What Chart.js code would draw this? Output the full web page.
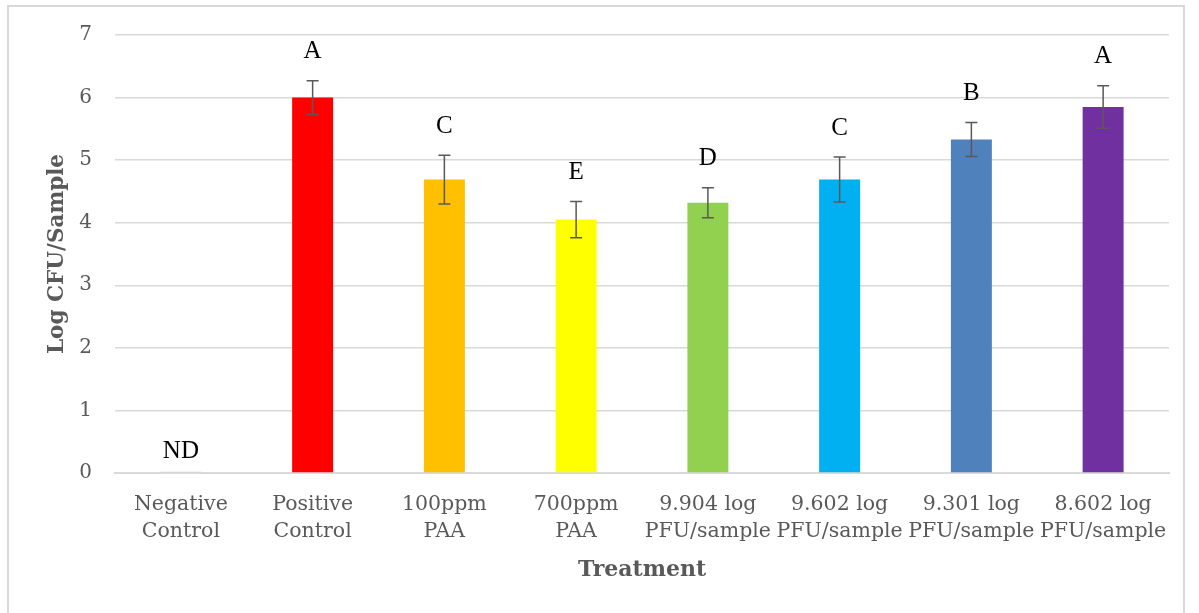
<!DOCTYPE html>
<html>
<head>
<meta charset="utf-8">
<script src="https://cdn.jsdelivr.net/npm/chart.js@4.4.1/dist/chart.umd.min.js"></script>
<style>
  html, body { margin: 0; padding: 0; background: #ffffff; }
  #wrap { position: relative; width: 1199px; height: 613px; }
  #frame { position: absolute; left: 7px; top: 5px; width: 1178px; height: 620px; border: 2px solid #d9d9d9; box-sizing: border-box; }
</style>
</head>
<body>
<div id="wrap">
  <div id="frame"></div>
  <canvas id="chart" width="1199" height="613"></canvas>
</div>
<script>
// Données
const categories = [
    ['Negative', 'Control'],
    ['Positive', 'Control'],
    ['100ppm', 'PAA'],
    ['700ppm', 'PAA'],
    ['9.904 log', 'PFU/sample'],
    ['9.602 log', 'PFU/sample'],
    ['9.301 log', 'PFU/sample'],
    ['8.602 log', 'PFU/sample']
];
const means = [0.02, 6.0, 4.69, 4.05, 4.32, 4.69, 5.33, 5.85];
const errors = [0, 0.27, 0.39, 0.29, 0.24, 0.36, 0.27, 0.34];
const letters = ['ND', 'A', 'C', 'E', 'D', 'C', 'B', 'A'];
const barColors = ['#D0D0D0', '#FF0000', '#FFC000', '#FFFF00', '#92D050', '#00B0F0', '#4F81BD', '#7030A0'];
const yTicks = [0, 1, 2, 3, 4, 5, 6, 7];

const serif = "'Liberation Serif', 'DejaVu Serif', serif";
const wideSerif = "'DejaVu Serif', serif";
const grey = '#595959';

// Barres d'erreur + lettres de signification
const errorBarPlugin = {
    id: 'errorBars',
    afterDatasetsDraw(chart) {
        const ctx = chart.ctx;
        const meta = chart.getDatasetMeta(0);
        const y = chart.scales.y;
        ctx.save();
        meta.data.forEach((bar, i) => {
            const x = bar.x;
            const err = errors[i];
            const top = y.getPixelForValue(means[i] + err);
            const bottom = y.getPixelForValue(means[i] - err);
            if (err > 0) {
                ctx.strokeStyle = grey;
                ctx.lineWidth = 1.5;
                ctx.beginPath();
                ctx.moveTo(x, top); ctx.lineTo(x, bottom);
                ctx.moveTo(x - 6, top); ctx.lineTo(x + 6, top);
                ctx.moveTo(x - 6, bottom); ctx.lineTo(x + 6, bottom);
                ctx.stroke();
            }
            ctx.fillStyle = '#000000';
            ctx.font = '25px ' + serif;
            ctx.textAlign = 'center';
            ctx.textBaseline = 'middle';
            const off = err > 0 ? 29 : 20;
            ctx.fillText(letters[i], x, top - off);
        });
        ctx.restore();
    }
};

new Chart(document.getElementById('chart'), {
    type: 'bar',
    data: {
        labels: categories,
        datasets: [{
            data: means,
            backgroundColor: barColors,
            borderWidth: 0,
            barPercentage: 0.311,
            categoryPercentage: 1.0
        }]
    },
    options: {
        responsive: false,
        animation: false,
        events: [],
        layout: { padding: { left: 0, right: 30, top: 34, bottom: 0 } },
        plugins: { legend: { display: false }, tooltip: { enabled: false } },
        scales: {
            y: {
                min: 0,
                max: 7,
                afterBuildTicks(scale) { scale.ticks = yTicks.map(v => ({ value: v })); },
                afterFit(scale) { scale.width = 115; },
                ticks: { color: grey, font: { family: wideSerif, size: 20 }, padding: 23 },
                grid: { color: '#d9d9d9', lineWidth: 1.5, drawTicks: false },
                border: { display: false },
                title: {
                    display: true,
                    text: 'Log CFU/Sample',
                    color: grey,
                    font: { family: wideSerif, size: 21.5, weight: 'bold' },
                    padding: { top: 45, bottom: 0 }
                }
            },
            x: {
                afterFit(scale) { scale.height = 140; },
                ticks: { color: grey, font: { family: wideSerif, size: 20.5, lineHeight: 1.33 }, padding: 18, maxRotation: 0 },
                grid: { display: false, drawTicks: false },
                border: { display: true, color: '#d9d9d9', width: 2 },
                title: {
                    display: true,
                    text: 'Treatment',
                    color: grey,
                    font: { family: wideSerif, size: 22, weight: 'bold' },
                    padding: { top: 0, bottom: 30 }
                }
            }
        }
    },
    plugins: [errorBarPlugin]
});
</script>
</body>
</html>
